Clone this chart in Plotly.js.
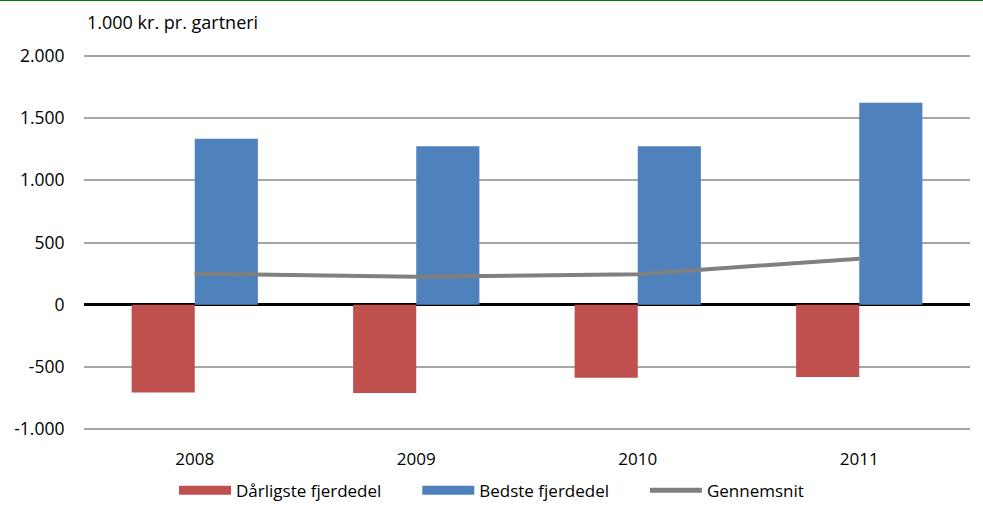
<!DOCTYPE html>
<html><head><meta charset="utf-8">
<script src="https://cdn.plot.ly/plotly-3.0.1.min.js"></script>
<style>body{margin:0;}#c{width:983px;height:506px;}</style>
</head><body><div id="c"></div>
<script>
const years = ['2008','2009','2010','2011'];
const worst = [-707, -710, -587, -582];
const best = [1334, 1275, 1275, 1624];
const avg = [249, 225, 245, 370];
const yTicks = [-1000,-500,0,500,1000,1500,2000];
const yTickLabels = ['-1.000','-500','0','500','1.000','1.500','2.000'];
const seriesNames = ['Dårligste fjerdedel', 'Bedste fjerdedel', 'Gennemsnit'];

const fnt = "'Open Sans', sans-serif";
const RED = '#C0504D', BLUE = '#4F81BD', GRAY = '#808080';
const pad = '\u00a0'.repeat(7);
const data = [
  {type:'bar', name:seriesNames[0], x:years, y:worst, marker:{color:RED}, showlegend:false},
  {type:'bar', name:seriesNames[1], x:years, y:best, marker:{color:BLUE}, showlegend:false},
  {type:'scatter', mode:'lines', name:seriesNames[2], x:years, y:avg, line:{color:GRAY, width:4}, showlegend:false},
  // legend entries
  {type:'scatter', mode:'lines', name:seriesNames[0] + pad, x:[null], y:[null], line:{color:RED, width:9}, hoverinfo:'skip'},
  {type:'scatter', mode:'lines', name:seriesNames[1] + pad, x:[null], y:[null], line:{color:BLUE, width:9}, hoverinfo:'skip'},
  {type:'scatter', mode:'lines', name:seriesNames[2], x:[null], y:[null], line:{color:GRAY, width:5}, hoverinfo:'skip'}
];
const layout = {
  width:983, height:506,
  margin:{l:84, r:13, t:53, b:74},
  paper_bgcolor:'#fff', plot_bgcolor:'#fff',
  font:{family:fnt, size:17, color:'#000'},
  barmode:'group', bargap:0.43, bargroupgap:0,
  showlegend:true,
  legend:{orientation:'h', x:0.5, xref:'container', xanchor:'center', y:0.03, yref:'container', yanchor:'middle',
          font:{size:17}, traceorder:'normal', itemwidth:52, bgcolor:'rgba(0,0,0,0)'},
  xaxis:{type:'category', showgrid:false, showline:false, ticks:'outside', ticklen:12, tickcolor:'rgba(0,0,0,0)', tickfont:{size:17}},
  yaxis:{range:[-1024,2024], tickvals:yTicks, ticktext:yTickLabels, showgrid:true, gridcolor:'#A6A6A6', gridwidth:2,
         zeroline:true, zerolinecolor:'#000', zerolinewidth:3, ticks:'outside', ticklen:15, tickcolor:'rgba(0,0,0,0)', tickfont:{size:17.5}, automargin:false},
  annotations:[{text:'1.000 kr. pr. gartneri', xref:'paper', yref:'paper', x:0, y:1.083, xanchor:'left', yanchor:'middle', showarrow:false, font:{size:18}, xshift:1}],
  shapes:[{type:'line', xref:'paper', yref:'paper', x0:-0.2, x1:1.1, y0:1.14, y1:1.14, line:{color:'#008000', width:2}}]
};
Plotly.newPlot('c', data, layout, {displayModeBar:false});
</script></body></html>
